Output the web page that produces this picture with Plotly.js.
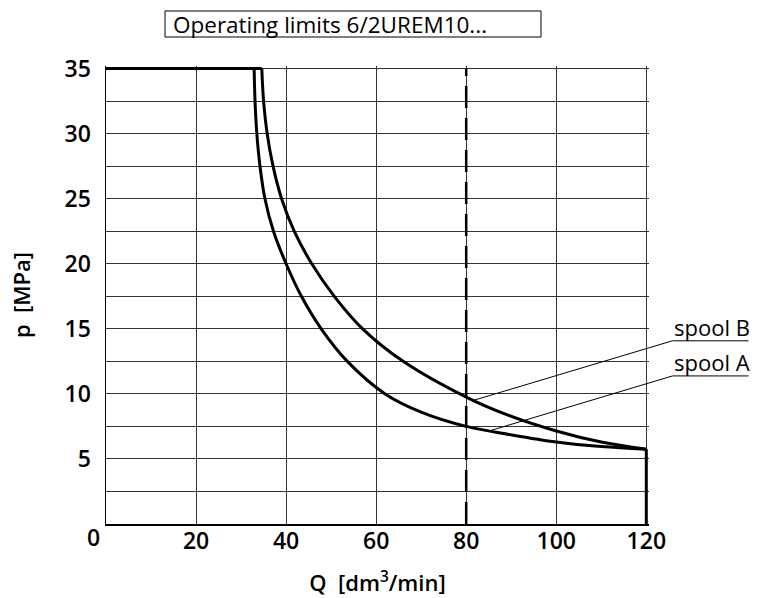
<!DOCTYPE html>
<html>
<head>
<meta charset="utf-8">
<script src="https://cdn.plot.ly/plotly-3.0.1.min.js"></script>
<style>html,body{margin:0;padding:0;background:#fff;}</style>
</head>
<body>
<div id="chart" style="width:757px;height:598px;"></div>
<script>
// ---- data ----
const chartTitle = 'Operating limits 6/2UREM10...';
const xTickVals = [20, 40, 60, 80, 100, 120];
const xTickText = ['20', '40', '60', '80', '100', '120'];
const yTickVals = [2.5, 5, 7.5, 10, 12.5, 15, 17.5, 20, 22.5, 25, 27.5, 30, 32.5, 35];
const yTickText = ['', '5', '', '10', '', '15', '', '20', '', '25', '', '30', '', '35'];

const limitQ = [0, 34.6, null, 120, 120];
const limitP = [35, 35, null, 5.75, 0];

const spoolAQ = [32.9, 33.1, 33.5, 34.2, 35.3, 37.2, 40.0, 43.4, 47.8, 53.6, 62.0, 70, 80, 90, 100, 110, 120];
const spoolAP = [35, 32.5, 30, 27.5, 25, 22.5, 20, 17.5, 15, 12.5, 10, 8.6, 7.5, 6.85, 6.3, 5.95, 5.75];

const spoolBQ = [34.6, 35.0, 35.8, 37.1, 39.0, 41.8, 45.7, 50.7, 57.0, 66.0, 80, 89, 100, 110, 120];
const spoolBP = [35, 32.5, 30, 27.5, 25, 22.5, 20, 17.5, 15, 12.5, 9.75, 8.4, 7.15, 6.3, 5.75];

const refQ = [80, 80];
const refP = [0, 35];

const labelNames = ['spool B', 'spool A'];
const labelCurveQ = [81.6, 85.1];
const labelCurveP = [9.5, 7.15];
const labelAnchorP = [14.08, 11.38];

// ---- layout helpers ----
const X_MAX = 120.6, Y_MAX = 35.2;
const xp = q => q / X_MAX;
const yp = p => p / Y_MAX;
const LABEL_Q0 = 125.8, LABEL_Q1 = 142.7;

const FONT = 'Open Sans, Noto Sans, sans-serif';
const lineStyle = {color: '#000', width: 3};

const traces = [
  {x: limitQ, y: limitP, mode: 'lines', line: lineStyle, hoverinfo: 'skip', name: 'limit'},
  {x: spoolAQ, y: spoolAP, mode: 'lines', line: Object.assign({shape: 'spline', smoothing: 1}, lineStyle), name: 'spool A'},
  {x: spoolBQ, y: spoolBP, mode: 'lines', line: Object.assign({shape: 'spline', smoothing: 1}, lineStyle), name: 'spool B'},
  {x: refQ, y: refP, mode: 'lines', line: {color: '#000', width: 2.5, dash: '22px,10px'}, name: 'Q=80'}
];

const shapes = [];
const annotations = [];
labelNames.forEach((name, i) => {
  shapes.push({type: 'line', xref: 'paper', yref: 'paper',
    x0: xp(labelCurveQ[i]), y0: yp(labelCurveP[i]), x1: xp(LABEL_Q0), y1: yp(labelAnchorP[i]),
    line: {color: '#000', width: 1}});
  shapes.push({type: 'line', xref: 'paper', yref: 'paper',
    x0: xp(LABEL_Q0), y0: yp(labelAnchorP[i]), x1: xp(LABEL_Q1), y1: yp(labelAnchorP[i]),
    line: {color: '#000', width: 1}});
  annotations.push({xref: 'paper', yref: 'paper', x: xp(LABEL_Q0), y: yp(labelAnchorP[i]),
    xanchor: 'left', yanchor: 'bottom', text: name, showarrow: false, xshift: 0, yshift: -3,
    font: {family: FONT, size: 22, color: '#000'}});
});
// title box
shapes.push({type: 'rect', xref: 'paper', yref: 'paper', x0: 0.1087, x1: 0.8011, y0: 1.0633, y1: 1.1201,
  line: {color: '#000', width: 1}, fillcolor: 'rgba(0,0,0,0)'});
annotations.push({xref: 'paper', yref: 'paper', x: 0.1197, y: 1.0917, xanchor: 'left', yanchor: 'middle',
  text: chartTitle, showarrow: false, align: 'left',
  font: {family: FONT, size: 22.5, color: '#000'}});
annotations.push({xref: 'paper', yref: 'paper', x: 0, y: 0, xanchor: 'center', yanchor: 'top',
  text: '0', showarrow: false, xshift: -13, yshift: 5,
  font: {family: FONT, size: 23, weight: 600, color: '#000'}});

const layout = {
  width: 757, height: 598,
  margin: {l: 106, r: 108, t: 66, b: 74, pad: 0},
  paper_bgcolor: '#fff', plot_bgcolor: '#fff',
  showlegend: false,
  font: {family: FONT, color: '#000'},
  xaxis: {
    range: [0, X_MAX], tickvals: xTickVals, ticktext: xTickText,
    showgrid: true, gridcolor: '#333', gridwidth: 1,
    showline: true, linecolor: '#000', linewidth: 1.5, zeroline: false,
    ticks: '', ticklabelstandoff: -4,
    tickfont: {family: FONT, size: 23, weight: 600, color: '#000'},
    title: {text: 'Q  [dm<sup>3</sup>/min]', standoff: 20, font: {family: FONT, size: 22, weight: 600, color: '#000'}}
  },
  yaxis: {
    range: [0, Y_MAX], tickvals: yTickVals, ticktext: yTickText,
    showgrid: true, gridcolor: '#333', gridwidth: 1,
    showline: true, linecolor: '#000', linewidth: 1.5, zeroline: false,
    ticks: '', ticklabelstandoff: 9,
    tickfont: {family: FONT, size: 23, weight: 600, color: '#000'},
    title: {text: 'p  [MPa]', standoff: 28, font: {family: FONT, size: 22, weight: 600, color: '#000'}}
  },
  shapes: shapes,
  annotations: annotations
};

Plotly.newPlot('chart', traces, layout, {staticPlot: true, displayModeBar: false});
</script>
</body>
</html>
